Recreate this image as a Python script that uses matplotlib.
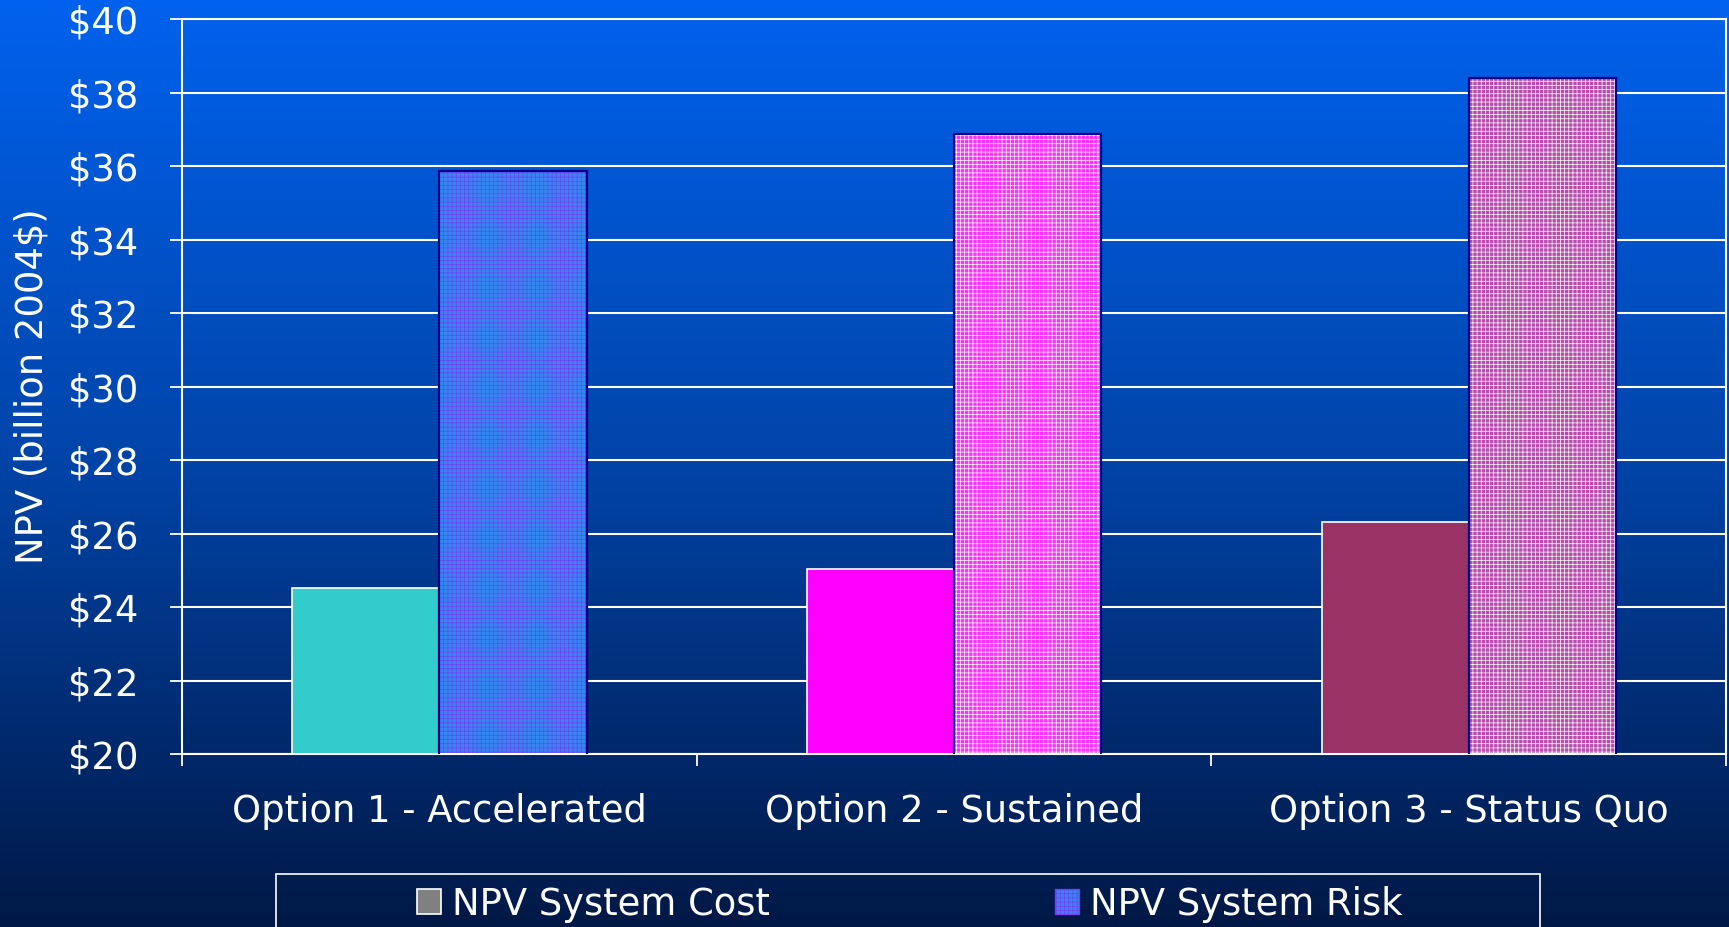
"""
Recreate the NPV system cost / system risk grouped bar chart.
"""

import numpy as np
import matplotlib
matplotlib.use("Agg")
import matplotlib.pyplot as plt
from matplotlib.colors import to_rgb
from matplotlib.patches import Patch, Rectangle
from matplotlib.ticker import FixedLocator, FuncFormatter


# ── Data ──────────────────────────────────────────────────────────────────────

categories = ["Option 1 - Accelerated", "Option 2 - Sustained", "Option 3 - Status Quo"]
system_cost = [24.52, 25.04, 26.30]
system_risk = [35.86, 36.87, 38.40]
series_names = ["NPV System Cost", "NPV System Risk"]
y_ticks = list(range(20, 41, 2))

# ── Style ─────────────────────────────────────────────────────────────────────

cost_colors = ["#33CCCC", "#FF00FF", "#993366"]
risk_faces = ["#3388F2", "#FF30FF", "#B84AB0"]
risk_hatch = ["#7A3CF0", "#FFFFFF", "#FFFFFF"]
bg_stops = [(0.0, "#0062EE"), (0.5, "#0044A8"), (1.0, "#001845")]  # top -> bottom

FS = 26.6
plt.rcParams["font.family"] = "DejaVu Sans"
plt.rcParams["hatch.linewidth"] = 0.5

fig = plt.figure(figsize=(17.29, 9.27), dpi=100)
fig.patch.set_facecolor("#001845")

# vertical gradient background
bg = fig.add_axes([0, 0, 1, 1], zorder=-5)
pos = np.linspace(0, 1, 512)
rgb = np.array([to_rgb(c) for _, c in bg_stops])
stops = [s for s, _ in bg_stops]
grad = np.stack([np.interp(pos, stops, rgb[:, k]) for k in range(3)], axis=1)
bg.imshow(grad[:, None, :], aspect="auto", extent=[0, 1, 0, 1])
bg.axis("off")

ax = fig.add_axes([0.1053, 0.1866, 0.8930, 0.7929])
ax.set_facecolor("none")

x = np.arange(len(categories))
width = 0.286

# grid behind bars
ax.set_axisbelow(True)
ax.yaxis.grid(True, color="white", linewidth=1.5)

# cost bars: solid fill, white edge
ax.bar(x - width / 2, system_cost, width, color=cost_colors,
       edgecolor="white", linewidth=1.2, zorder=2)

# risk bars: fine grid pattern, navy outline
for i in range(len(categories)):
    ax.bar(x[i] + width / 2, system_risk[i], width, color=risk_faces[i],
           edgecolor=risk_hatch[i], hatch="++++", linewidth=0, zorder=2)
ax.bar(x + width / 2, system_risk, width, fill=False,
       edgecolor="#00008C", linewidth=1.6, zorder=3)

ax.set_xlim(-0.5, len(categories) - 0.5)
ax.set_ylim(20, 40)
ax.set_yticks(y_ticks)
ax.yaxis.set_major_formatter(FuncFormatter(lambda v, p: f"${v:.0f}"))
ax.tick_params(axis="y", colors="white", labelsize=FS, length=8.6, width=1.3,
               pad=23, direction="out")

ax.set_xticks(x)
ax.set_xticklabels(categories)
ax.xaxis.set_minor_locator(FixedLocator(np.arange(-0.5, len(categories), 1.0)))
ax.tick_params(axis="x", which="major", colors="white", labelsize=FS,
               length=0, pad=28)
ax.tick_params(axis="x", which="minor", colors="white", length=8.6, width=1.3)

for side in ["left", "bottom", "right", "top"]:
    ax.spines[side].set_color("white")
    ax.spines[side].set_linewidth(1.5)

ax.set_ylabel("NPV (billion 2004$)", color="white", fontsize=FS)
ax.yaxis.set_label_coords(-0.085, 0.5)

# ── Legend (framed box at bottom, partly cut off) ────────────────────────────

fig.patches.append(Rectangle((0.1596, -0.0076), 0.7310, 0.0647,
                             transform=fig.transFigure, fill=False,
                             edgecolor="white", linewidth=1.2))

handles = [
    Patch(facecolor="#808080", edgecolor="white", linewidth=1.2),
    Patch(facecolor=risk_faces[0], edgecolor=risk_hatch[0], hatch="++++"),
]
for h, name, xa in zip(handles, series_names, [0.2412, 0.6102]):
    fig.legend([h], [name], loc="center left", bbox_to_anchor=(xa, 0.0248),
               frameon=False, fontsize=FS, labelcolor="white",
               borderpad=0, borderaxespad=0, handletextpad=0.3,
               handlelength=0.65, handleheight=0.65)

fig.savefig("out.png", dpi=100, facecolor=fig.get_facecolor())
